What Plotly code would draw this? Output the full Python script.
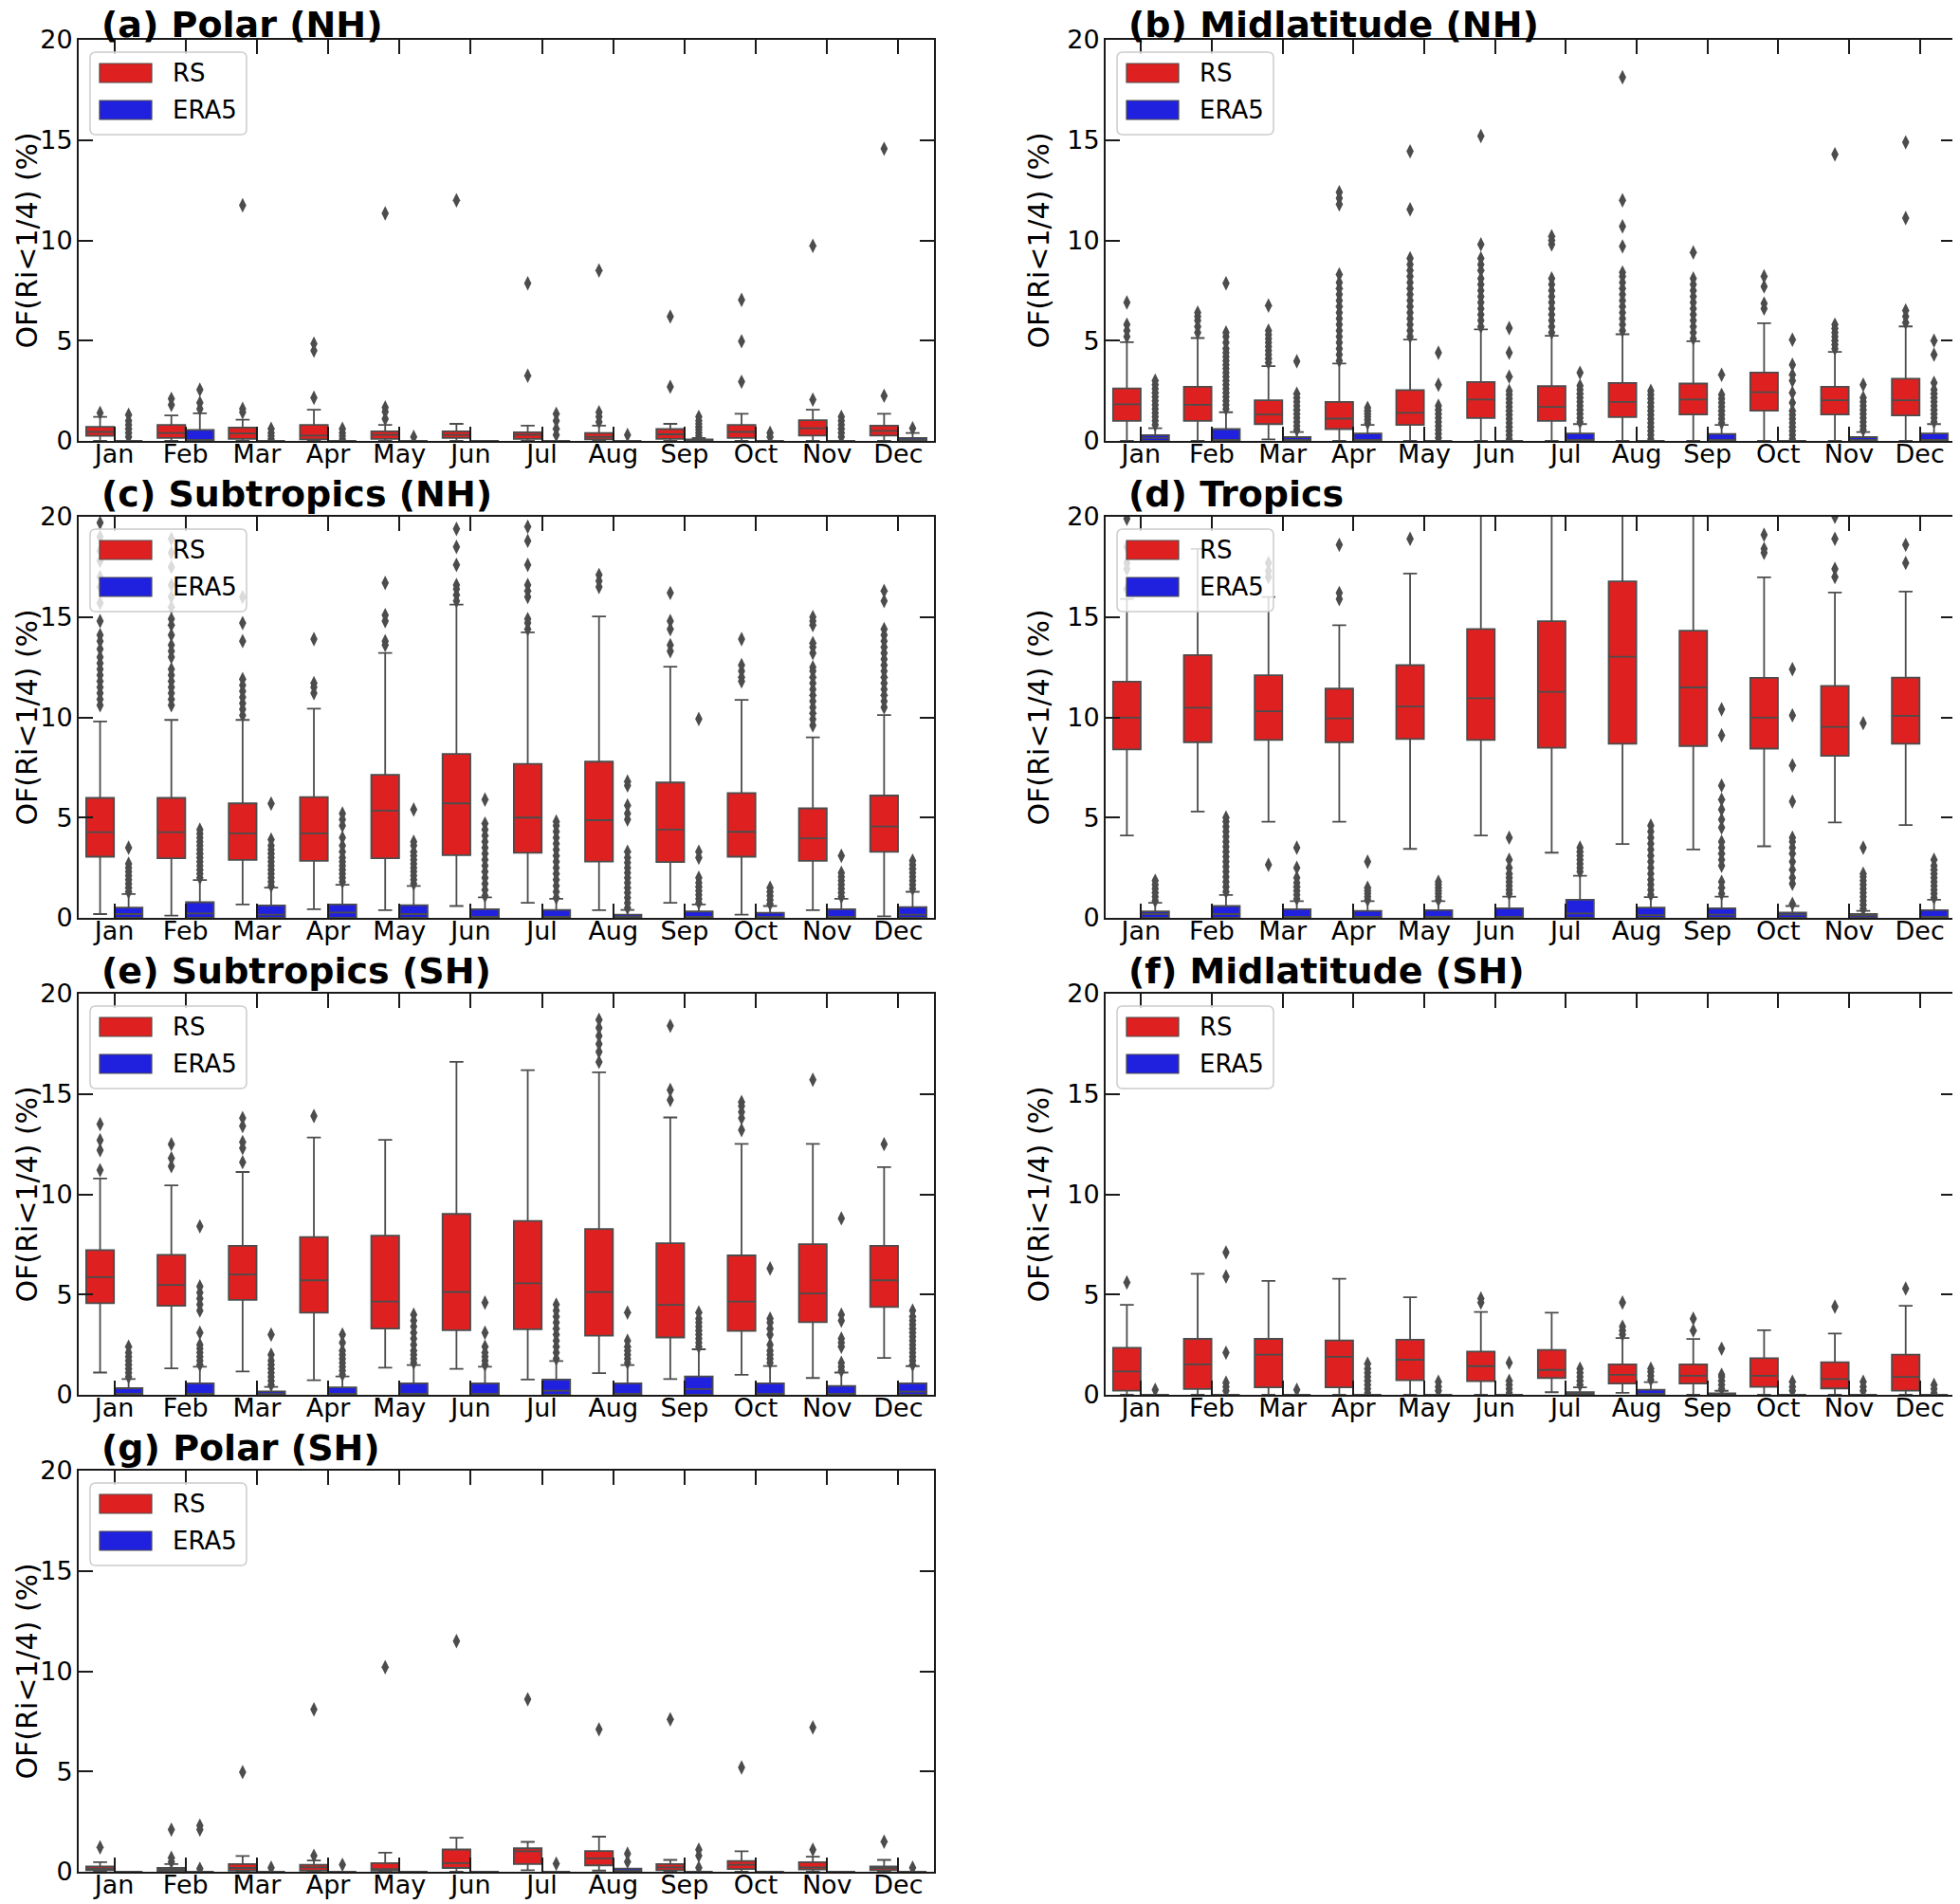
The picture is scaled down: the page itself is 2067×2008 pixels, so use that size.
import plotly.graph_objects as go
from plotly.subplots import make_subplots

MONTHS = ["Jan", "Feb", "Mar", "Apr", "May", "Jun",
          "Jul", "Aug", "Sep", "Oct", "Nov", "Dec"]
SERIES = ["RS", "ERA5"]
Y_TICKS = [0, 5, 10, 15, 20]
Y_TITLE = "OF(Ri<1/4) (%)"
Z = (0, 0, 0, 0, 0)

# box stats per month: (lower whisker, q1, median, q3, upper whisker)
# (a) Polar (NH)
A_RS = [(0, 0.25, 0.45, 0.7, 1.2), (0, 0.15, 0.4, 0.8, 1.27), (0, 0.1, 0.37, 0.67, 1.06),
        (0, 0.08, 0.27, 0.8, 1.55), (0, 0.1, 0.3, 0.48, 0.8), (0, 0.15, 0.3, 0.48, 0.85),
        (0, 0.1, 0.3, 0.43, 0.76), (0, 0.08, 0.2, 0.4, 0.76), (0, 0.1, 0.33, 0.59, 0.85),
        (0, 0.15, 0.45, 0.8, 1.35), (0, 0.27, 0.63, 1.03, 1.55), (0, 0.27, 0.5, 0.76, 1.35)]
A_RS_OUT = [[1.4], [1.8, 2.1], [1.43, 1.6, 11.75], [2.15, 4.5, 4.85], [1.1, 1.45, 1.67, 11.35],
            [12.0], [3.25, 7.86], [0.95, 1.2, 1.43, 8.5], [2.7, 6.2], [2.95, 4.97, 7.03],
            [2.06, 9.73], [2.25, 14.57]]
A_ERA = [Z, (0, 0, 0, 0.55, 1.38), Z, Z, Z, Z, Z, Z, (0, 0, 0.02, 0.08, 0.15), Z, Z,
         (0, 0, 0.05, 0.15, 0.4)]
A_ERA_OUT = [[0.2, 0.4, 0.6, 0.8, 1.0, 1.3], [1.6, 1.9, 2.55], [0.1, 0.25, 0.4, 0.6],
             [0.1, 0.25, 0.4, 0.6], [0.2], [], [0.3, 0.6, 1.0, 1.35], [0.3],
             [0.25, 0.4, 0.55, 0.7, 0.85, 1.0, 1.2], [0.2, 0.4], [0.2, 0.4, 0.6, 0.8, 1.0, 1.2],
             [0.63]]

# (b) Midlatitude (NH)
B_RS = [(0, 1.0, 1.83, 2.62, 4.92), (0, 1.0, 1.8, 2.7, 5.13), (0.08, 0.84, 1.32, 2.03, 3.73),
        (0, 0.59, 1.11, 1.94, 3.86), (0, 0.8, 1.4, 2.54, 5.05), (0, 1.14, 2.06, 2.94, 5.56),
        (0, 1.0, 1.7, 2.73, 5.24), (0, 1.19, 1.94, 2.89, 5.32), (0, 1.32, 2.06, 2.86, 4.97),
        (0, 1.51, 2.43, 3.41, 5.87), (0, 1.32, 2.03, 2.7, 4.44), (0, 1.27, 2.03, 3.1, 5.71)]
B_RS_OUT = [[5.2, 5.5, 5.8, 6.9],
            [5.4, 5.7, 6.0, 6.2, 6.4],
            [3.9, 4.1, 4.3, 4.5, 4.7, 4.9, 5.1, 5.3, 5.5, 6.75],
            [4.0, 4.3, 4.6, 4.9, 5.2, 5.5, 5.8, 6.1, 6.4, 6.7, 7.0, 7.3, 7.6, 7.9, 8.3,
             11.8, 12.1, 12.4],
            [5.2, 5.5, 5.8, 6.1, 6.4, 6.7, 7.0, 7.3, 7.6, 7.9, 8.2, 8.5, 8.8, 9.1, 11.55, 14.44],
            [5.7, 6.0, 6.3, 6.6, 6.9, 7.2, 7.5, 7.8, 8.1, 8.5, 8.8, 9.1, 9.8, 15.2],
            [5.4, 5.7, 6.0, 6.3, 6.6, 6.9, 7.2, 7.5, 7.8, 8.1, 9.8, 10.0, 10.2],
            [5.5, 5.8, 6.1, 6.4, 6.7, 7.0, 7.3, 7.6, 7.9, 8.2, 8.4, 9.7, 10.7, 12.0, 18.13],
            [5.1, 5.4, 5.7, 6.0, 6.3, 6.6, 6.9, 7.2, 7.5, 7.8, 8.1, 9.4],
            [6.6, 6.85, 7.7, 8.2],
            [4.6, 4.8, 5.0, 5.2, 5.4, 5.6, 5.8, 14.29],
            [5.9, 6.2, 6.5, 11.11, 14.89]]
B_ERA = [(0, 0, 0.15, 0.29, 0.63), (0, 0, 0, 0.59, 1.43), (0, 0, 0.05, 0.19, 0.44),
         (0, 0, 0, 0.37, 0.8), Z, Z, (0, 0, 0, 0.37, 0.84), Z, (0, 0, 0, 0.35, 0.8), Z,
         (0, 0, 0.05, 0.19, 0.44), (0, 0, 0, 0.37, 0.84)]
B_ERA_OUT = [[0.8, 1.0, 1.2, 1.4, 1.6, 1.8, 2.0, 2.2, 2.4, 2.6, 2.8, 3.0],
             [1.6, 1.8, 2.0, 2.2, 2.4, 2.6, 2.8, 3.0, 3.2, 3.4, 3.6, 3.8, 4.0, 4.2, 4.4, 4.6,
              4.9, 5.2, 5.4, 7.86],
             [0.55, 0.75, 0.95, 1.15, 1.35, 1.55, 1.75, 1.95, 2.15, 2.35, 3.97],
             [0.9, 1.05, 1.2, 1.35, 1.5, 1.65],
             [0.15, 0.35, 0.55, 0.75, 0.95, 1.15, 1.35, 1.55, 1.75, 2.8, 4.4],
             [0.1, 0.3, 0.5, 0.7, 0.9, 1.1, 1.3, 1.5, 1.7, 1.9, 2.1, 2.3, 2.5, 3.2, 4.4, 5.63],
             [0.95, 1.15, 1.35, 1.55, 1.75, 1.95, 2.15, 2.35, 2.55, 2.75, 3.4],
             [0.1, 0.3, 0.5, 0.7, 0.9, 1.1, 1.3, 1.5, 1.7, 1.9, 2.1, 2.3, 2.5],
             [0.9, 1.1, 1.3, 1.5, 1.7, 1.9, 2.1, 2.3, 3.3],
             [0.1, 0.3, 0.5, 0.7, 0.9, 1.1, 1.3, 1.5, 1.9, 2.4, 3.0, 3.3, 3.8, 5.05],
             [0.55, 0.75, 0.95, 1.15, 1.35, 1.55, 1.75, 1.95, 2.15, 2.8],
             [0.95, 1.15, 1.35, 1.55, 1.75, 1.95, 2.15, 2.35, 2.55, 2.9, 4.3, 5.0]]

# (c) Subtropics (NH)
C_RS = [(0.19, 3.05, 4.27, 5.98, 9.79), (0.11, 2.97, 4.27, 5.98, 9.87),
        (0.67, 2.89, 4.21, 5.71, 9.87), (0.43, 2.84, 4.21, 6.02, 10.43),
        (0.38, 2.97, 5.35, 7.13, 13.21), (0.59, 3.13, 5.71, 8.17, 15.62),
        (0.75, 3.24, 5.0, 7.68, 14.24), (0.38, 2.81, 4.87, 7.79, 15.03),
        (0.75, 2.78, 4.4, 6.75, 12.52), (0.16, 3.05, 4.29, 6.22, 10.87),
        (0.38, 2.84, 3.97, 5.46, 9.0), (0.08, 3.29, 4.56, 6.1, 10.11)]
C_RS_OUT = [[10.6, 10.9, 11.2, 11.5, 11.8, 12.1, 12.4, 12.7, 13.0, 13.4, 13.8, 14.1, 14.8,
             15.7, 16.5, 17.0, 17.8, 18.3, 19.0, 19.7],
            [10.6, 10.9, 11.2, 11.5, 11.8, 12.1, 12.4, 13.0, 13.3, 13.6, 14.1, 14.6, 14.9,
             15.5, 16.0, 16.6, 17.5, 18.2, 18.9],
            [10.1, 10.4, 10.7, 11.0, 11.3, 11.6, 11.9, 13.8, 14.7, 16.0],
            [11.2, 11.5, 11.7, 13.9],
            [13.6, 13.8, 14.8, 15.1, 16.7],
            [15.8, 16.1, 16.4, 16.6, 17.6, 18.5, 19.4],
            [14.4, 14.7, 14.9, 16.0, 16.3, 16.6, 17.6, 18.8, 19.5],
            [16.5, 16.8, 17.1],
            [13.3, 13.6, 14.4, 14.8, 16.2],
            [11.8, 12.0, 12.3, 12.6, 13.9],
            [9.6, 9.9, 10.2, 10.5, 10.8, 11.1, 11.4, 11.7, 12.0, 12.3, 12.5, 13.2, 13.5, 13.7,
             14.6, 14.8, 15.0],
            [10.5, 10.8, 11.1, 11.4, 11.7, 12.0, 12.3, 12.6, 12.9, 13.2, 13.5, 13.8, 14.1,
             14.4, 15.8, 16.3]]
C_ERA = [(0, 0, 0.19, 0.51, 1.19), (0, 0, 0.22, 0.78, 1.89), (0, 0, 0.16, 0.62, 1.51),
         (0, 0, 0.27, 0.67, 1.65), (0, 0, 0.19, 0.63, 1.59), (0, 0, 0.05, 0.43, 1.02),
         (0, 0, 0.05, 0.4, 0.95), (0, 0, 0.03, 0.16, 0.4), (0, 0, 0.05, 0.32, 0.67),
         (0, 0, 0.05, 0.25, 0.59), (0, 0, 0.05, 0.43, 0.95), (0, 0, 0.16, 0.54, 1.3)]
C_ERA_OUT = [[1.3, 1.5, 1.7, 1.9, 2.1, 2.3, 2.5, 2.7, 3.5],
             [2.0, 2.2, 2.4, 2.6, 2.8, 3.0, 3.2, 3.4, 3.6, 3.8, 4.0, 4.2, 4.4],
             [1.6, 1.8, 2.0, 2.2, 2.4, 2.6, 2.8, 3.0, 3.2, 3.4, 3.6, 3.9, 5.7],
             [1.8, 2.0, 2.2, 2.4, 2.6, 2.8, 3.0, 3.3, 3.6, 4.0, 4.6, 4.9, 5.2],
             [1.7, 1.9, 2.1, 2.3, 2.5, 2.7, 2.9, 3.1, 3.3, 3.6, 3.8, 5.4],
             [1.1, 1.4, 1.7, 2.0, 2.3, 2.6, 2.9, 3.2, 3.5, 3.8, 4.1, 4.4, 4.7, 5.9],
             [1.0, 1.3, 1.6, 1.9, 2.2, 2.5, 2.8, 3.1, 3.4, 3.7, 4.0, 4.3, 4.6, 4.8],
             [0.5, 0.75, 1.0, 1.25, 1.5, 1.75, 2.0, 2.25, 2.5, 2.75, 3.0, 3.3, 4.9, 5.2, 5.6,
              6.6, 6.8],
             [0.75, 0.95, 1.15, 1.35, 1.55, 1.75, 2.0, 3.0, 3.3, 9.92],
             [0.7, 0.9, 1.1, 1.3, 1.5],
             [1.05, 1.25, 1.45, 1.65, 1.85, 2.05, 2.25, 3.1],
             [1.45, 1.65, 1.85, 2.05, 2.25, 2.45, 2.65, 2.85]]

# (d) Tropics
D_RS = [(4.11, 8.4, 9.98, 11.78, 15.9), (5.3, 8.76, 10.48, 13.1, 18.4),
        (4.79, 8.87, 10.3, 12.1, 16.0), (4.79, 8.76, 9.95, 11.43, 14.59),
        (3.44, 8.92, 10.54, 12.6, 17.17), (4.11, 8.87, 10.95, 14.4, 21.0),
        (3.25, 8.48, 11.27, 14.79, 21.0), (3.68, 8.68, 13.02, 16.78, 22.0),
        (3.41, 8.57, 11.49, 14.32, 21.0), (3.57, 8.44, 9.98, 11.97, 16.98),
        (4.76, 8.08, 9.52, 11.57, 16.22), (4.63, 8.68, 10.08, 11.98, 16.27)]
D_RS_OUT = [[16.4, 17.4, 17.7, 18.5, 19.9], [], [2.65, 17.0, 17.3, 17.7], [15.9, 16.2, 18.6],
            [18.9], [], [], [], [], [18.2, 18.4, 19.1], [17.0, 17.4, 18.9, 20.0], [17.7, 18.6]]
D_ERA = [(0, 0, 0.19, 0.32, 0.75), (0, 0, 0.19, 0.59, 1.14), (0, 0, 0.05, 0.43, 0.83),
         (0, 0, 0.05, 0.35, 0.83), (0, 0, 0.05, 0.38, 0.83), (0, 0, 0.05, 0.48, 1.06),
         (0, 0, 0.22, 0.9, 2.1), (0, 0, 0.14, 0.51, 1.03), (0, 0, 0.16, 0.48, 1.06),
         (0, 0, 0.16, 0.27, 0.59), (0, 0, 0.11, 0.19, 0.35), (0, 0, 0.05, 0.38, 0.9)]
D_ERA_OUT = [[0.85, 1.05, 1.25, 1.45, 1.65, 1.85],
             [1.3, 1.55, 1.8, 2.05, 2.3, 2.55, 2.8, 3.05, 3.3, 3.55, 3.8, 4.05, 4.3, 4.55, 4.8,
              5.0],
             [0.95, 1.15, 1.35, 1.55, 1.75, 2.0, 2.5, 3.5],
             [0.9, 1.05, 1.2, 1.35, 1.5, 2.8],
             [0.9, 1.05, 1.2, 1.35, 1.5, 1.65, 1.8],
             [1.2, 1.4, 1.6, 1.8, 2.0, 2.2, 2.5, 2.9, 4.0],
             [2.3, 2.5, 2.7, 2.9, 3.1, 3.3, 3.5],
             [1.15, 1.4, 1.65, 1.9, 2.2, 2.5, 2.8, 3.1, 3.4, 3.7, 4.0, 4.3, 4.6],
             [1.2, 1.5, 1.8, 2.6, 2.9, 3.2, 3.5, 3.8, 4.5, 4.9, 5.4, 5.9, 6.6, 9.1, 10.4],
             [0.7, 1.7, 2.0, 2.4, 2.8, 3.2, 3.5, 3.8, 4.0, 5.8, 7.6, 10.1, 12.4],
             [0.45, 0.65, 0.85, 1.05, 1.25, 1.45, 1.65, 1.85, 2.05, 2.2, 3.5, 9.71],
             [1.0, 1.2, 1.4, 1.6, 1.8, 2.0, 2.2, 2.4, 2.6, 2.9]]

# (e) Subtropics (SH)
E_RS = [(1.11, 4.57, 5.87, 7.22, 10.79), (1.32, 4.44, 5.48, 6.98, 10.44),
        (1.16, 4.73, 6.0, 7.43, 11.11), (0.73, 4.1, 5.71, 7.87, 12.83),
        (1.35, 3.3, 4.65, 7.94, 12.71), (1.29, 3.22, 5.13, 9.02, 16.6),
        (0.76, 3.27, 5.56, 8.67, 16.19), (1.08, 2.95, 5.13, 8.27, 16.08),
        (0.79, 2.86, 4.49, 7.56, 13.83), (1.0, 3.19, 4.65, 6.95, 12.51),
        (0.84, 3.62, 5.05, 7.51, 12.51), (1.84, 4.38, 5.71, 7.43, 11.35)]
E_RS_OUT = [[11.2, 12.2, 12.7, 13.5], [11.4, 11.8, 12.5], [11.6, 12.3, 12.6, 13.4, 13.8],
            [13.9], [], [], [], [16.6, 17.1, 17.5, 17.9, 18.3, 18.7], [14.7, 15.2, 18.4],
            [13.2, 13.8, 14.1, 14.4, 14.6], [15.71], [12.5]]
E_ERA = [(0, 0, 0.05, 0.33, 0.79), (0, 0, 0.05, 0.57, 1.4), (0, 0, 0.03, 0.17, 0.4),
         (0, 0, 0.05, 0.37, 0.92), (0, 0, 0.05, 0.57, 1.48), (0, 0, 0.05, 0.57, 1.4),
         (0, 0, 0.21, 0.76, 1.68), (0, 0, 0.05, 0.57, 1.48), (0, 0, 0.29, 0.92, 2.27),
         (0, 0, 0.05, 0.57, 1.44), (0, 0, 0.05, 0.44, 1.11), (0, 0, 0.16, 0.57, 1.43)]
E_ERA_OUT = [[0.9, 1.1, 1.3, 1.5, 1.7, 1.9, 2.1, 2.4],
             [1.5, 1.7, 1.9, 2.1, 2.3, 2.5, 3.1, 4.2, 4.5, 4.8, 5.1, 5.4, 8.4],
             [0.5, 0.7, 0.9, 1.1, 1.3, 1.5, 1.7, 2.0, 3.0],
             [1.0, 1.2, 1.4, 1.6, 1.8, 2.0, 2.2, 2.6, 3.0],
             [1.6, 1.8, 2.0, 2.2, 2.5, 2.8, 3.1, 3.4, 3.7, 4.0],
             [1.5, 1.7, 1.9, 2.1, 2.4, 3.1, 4.6],
             [1.8, 2.1, 2.4, 2.7, 3.0, 3.3, 3.6, 3.9, 4.2, 4.5],
             [1.6, 1.8, 2.0, 2.2, 2.4, 2.7, 4.1],
             [2.4, 2.6, 2.8, 3.0, 3.2, 3.4, 3.6, 3.8, 4.1],
             [1.6, 1.8, 2.0, 2.2, 2.5, 3.0, 3.3, 3.6, 3.8, 6.3],
             [1.2, 1.4, 1.6, 2.4, 2.6, 2.8, 3.7, 4.0, 8.8],
             [1.5, 1.7, 1.9, 2.1, 2.3, 2.5, 2.7, 2.9, 3.1, 3.3, 3.5, 3.7, 3.9, 4.2]]

# (f) Midlatitude (SH)
F_RS = [(0, 0.21, 1.16, 2.35, 4.49), (0, 0.29, 1.52, 2.79, 6.03), (0, 0.37, 2.0, 2.79, 5.68),
        (0, 0.37, 1.9, 2.71, 5.79), (0, 0.73, 1.75, 2.75, 4.86), (0, 0.68, 1.43, 2.16, 4.13),
        (0.13, 0.84, 1.24, 2.24, 4.1), (0.1, 0.56, 1.0, 1.52, 2.83),
        (0, 0.56, 0.95, 1.52, 2.78), (0, 0.4, 0.95, 1.83, 3.22), (0, 0.32, 0.79, 1.63, 3.06),
        (0, 0.21, 0.89, 2.0, 4.44)]
F_RS_OUT = [[5.6], [], [], [], [], [4.6, 4.8], [], [3.0, 3.2, 3.4, 4.6], [3.2, 3.8], [],
            [4.4], [5.3]]
F_ERA = [Z, Z, Z, Z, Z, Z, (0, 0, 0.03, 0.13, 0.37), (0, 0, 0.05, 0.25, 0.63),
         (0, 0, 0.02, 0.08, 0.2), Z, Z, Z]
F_ERA_OUT = [[0.25], [0.2, 0.4, 0.6, 2.1, 5.9, 7.1], [0.25],
             [0.1, 0.3, 0.5, 0.7, 0.9, 1.1, 1.3, 1.55], [0.2, 0.4, 0.65],
             [0.1, 0.3, 0.5, 0.7, 1.6], [0.5, 0.7, 0.9, 1.1, 1.3], [0.75, 0.95, 1.15, 1.3],
             [0.3, 0.5, 0.7, 0.9, 1.0, 2.3], [0.2, 0.4, 0.65], [0.2, 0.4, 0.65],
             [0.1, 0.3, 0.5]]

# (g) Polar (SH)
G_RS = [(0, 0.08, 0.16, 0.27, 0.48), (0, 0.03, 0.1, 0.19, 0.38), (0, 0.06, 0.19, 0.38, 0.79),
        (0, 0.06, 0.22, 0.35, 0.56), (0, 0.06, 0.14, 0.43, 0.95), (0, 0.19, 0.43, 1.11, 1.7),
        (0.08, 0.38, 1.02, 1.17, 1.49), (0.06, 0.32, 0.67, 1.03, 1.75),
        (0, 0.08, 0.22, 0.38, 0.59), (0, 0.14, 0.35, 0.54, 1.02), (0, 0.11, 0.22, 0.48, 0.75),
        (0, 0.08, 0.19, 0.27, 0.59)]
G_RS_OUT = [[1.22], [0.5, 0.7, 2.1], [4.97], [0.8, 8.1], [10.2], [11.5], [8.6], [7.1], [7.6],
            [5.2], [1.1, 7.2], [1.5]]
G_ERA = [Z, Z, Z, Z, Z, Z, Z, (0, 0, 0.05, 0.16, 0.16), Z, Z, Z, Z]
G_ERA_OUT = [[], [0.15, 2.1, 2.3], [0.2], [0.35], [], [], [0.4], [0.5, 0.9],
             [0.2, 0.8, 1.1], [], [], [0.2]]

PANELS = [
    ("(a) Polar (NH)", 1, 1, A_RS, A_RS_OUT, A_ERA, A_ERA_OUT),
    ("(b) Midlatitude (NH)", 1, 2, B_RS, B_RS_OUT, B_ERA, B_ERA_OUT),
    ("(c) Subtropics (NH)", 2, 1, C_RS, C_RS_OUT, C_ERA, C_ERA_OUT),
    ("(d) Tropics", 2, 2, D_RS, D_RS_OUT, D_ERA, D_ERA_OUT),
    ("(e) Subtropics (SH)", 3, 1, E_RS, E_RS_OUT, E_ERA, E_ERA_OUT),
    ("(f) Midlatitude (SH)", 3, 2, F_RS, F_RS_OUT, F_ERA, F_ERA_OUT),
    ("(g) Polar (SH)", 4, 1, G_RS, G_RS_OUT, G_ERA, G_ERA_OUT),
]

# page has an 8px body margin, so the figure is laid out in page pixels minus OFF
OFF = 8
W, H = 2059, 2000
COL_PX = [(83, 985), (1166, 2062)]
ROW_PX = [(42, 465), (545, 968), (1048, 1471), (1551, 1974)]
RED = "rgb(223,32,32)"
BLUE = "rgb(32,32,223)"
EDGE = "#4c4c4c"
AXIS = "#1a1a1a"
FONT = "DejaVu Sans"


def px(p):
    return (p - OFF) / W


def py(p):
    return 1 - (p - OFF) / H


def rounded_box(x0, y0, x1, y1, r):
    # rounded rectangle path in paper coordinates from page pixels
    pts = [("M", x0 + r, y0), ("L", x1 - r, y0), ("Q", x1, y0, x1, y0 + r),
           ("L", x1, y1 - r), ("Q", x1, y1, x1 - r, y1), ("L", x0 + r, y1),
           ("Q", x0, y1, x0, y1 - r), ("L", x0, y0 + r), ("Q", x0, y0, x0 + r, y0)]
    out = []
    for p in pts:
        cmd, vals = p[0], p[1:]
        coords = []
        for j in range(0, len(vals), 2):
            coords.append(f"{px(vals[j]):.5f},{py(vals[j + 1]):.5f}")
        out.append(cmd + " ".join(coords))
    return " ".join(out) + " Z"


fig = make_subplots(rows=4, cols=2,
                    specs=[[{}, {}], [{}, {}], [{}, {}], [{}, None]])

annotations = []
shapes = []
for title, row, col, rs, rs_out, era, era_out in PANELS:
    for name, color, offset, stats, outs in [(SERIES[0], RED, -0.2, rs, rs_out),
                                             (SERIES[1], BLUE, 0.2, era, era_out)]:
        pos = [i + offset for i in range(len(MONTHS))]
        fig.add_trace(go.Box(
            x=pos,
            lowerfence=[s[0] for s in stats],
            q1=[s[1] for s in stats],
            median=[s[2] for s in stats],
            q3=[s[3] for s in stats],
            upperfence=[s[4] for s in stats],
            name=name, fillcolor=color,
            line=dict(color=EDGE, width=1.8),
            width=0.39, whiskerwidth=0.5, boxpoints=False,
            showlegend=False, hoverinfo="skip",
        ), row=row, col=col)
        ox = [pos[i] for i, o in enumerate(outs) for _ in o]
        oy = [v for o in outs for v in o]
        fig.add_trace(go.Scatter(
            x=ox, y=oy, mode="markers",
            marker=dict(symbol="diamond-tall", size=11, color=EDGE),
            showlegend=False, hoverinfo="skip",
        ), row=row, col=col)

    x0, x1 = COL_PX[col - 1]
    y0, y1 = ROW_PX[row - 1]
    axis_style = dict(showline=True, linecolor=AXIS, linewidth=2, mirror="ticks",
                      ticks="inside", ticklen=15, tickwidth=2, tickcolor=AXIS,
                      showgrid=False, zeroline=False, automargin=False,
                      tickfont=dict(family=FONT, size=27, color="black"))
    fig.update_xaxes(domain=[px(x0), px(x1)], range=[-0.5, 11.5],
                     tickvals=list(range(len(MONTHS))), ticktext=MONTHS,
                     ticklabelstandoff=-11, row=row, col=col, **axis_style)
    fig.update_yaxes(domain=[py(y1), py(y0)], range=[0, 20], tickvals=Y_TICKS,
                     ticklabelstandoff=-1, row=row, col=col, **axis_style)

    # panel title and y-axis title
    annotations.append(dict(text=f"<b>{title}</b>", xref="paper", yref="paper",
                            x=px(x0 + 22), y=py(max(y0 - 24, 26)),
                            xanchor="left", yanchor="middle", showarrow=False,
                            font=dict(family=FONT, size=38, color="black")))
    annotations.append(dict(text=Y_TITLE, xref="paper", yref="paper",
                            x=px(max(x0 - 71, 28)), y=py((y0 + y1) / 2), textangle=-90,
                            xanchor="center", yanchor="middle", showarrow=False,
                            font=dict(family=FONT, size=30, color="black")))

    # legend drawn per panel (upper left, semi-transparent frame)
    shapes.append(dict(type="path", xref="paper", yref="paper",
                       path=rounded_box(x0 + 12, y0 + 13, x0 + 177, y0 + 100, 6),
                       fillcolor="rgba(255,255,255,0.8)",
                       line=dict(color="#cccccc", width=1.5), layer="above"))
    for j, (name, color) in enumerate(zip(SERIES, [RED, BLUE])):
        cy = y0 + 35 + 39 * j
        shapes.append(dict(type="rect", xref="paper", yref="paper",
                           x0=px(x0 + 22), x1=px(x0 + 77), y0=py(cy + 10), y1=py(cy - 10),
                           fillcolor=color, line=dict(color=EDGE, width=1.2), layer="above"))
        annotations.append(dict(text=name, xref="paper", yref="paper",
                                x=px(x0 + 97), y=py(cy), xanchor="left", yanchor="middle",
                                showarrow=False,
                                font=dict(family=FONT, size=26, color="black")))

fig.update_layout(
    width=W, height=H, autosize=False,
    margin=dict(l=0, r=0, t=0, b=0),
    paper_bgcolor="white", plot_bgcolor="white",
    font=dict(family=FONT, color="black"),
    boxmode="overlay",
    showlegend=False,
    annotations=annotations,
    shapes=shapes,
)

fig.write_html("out.html")
